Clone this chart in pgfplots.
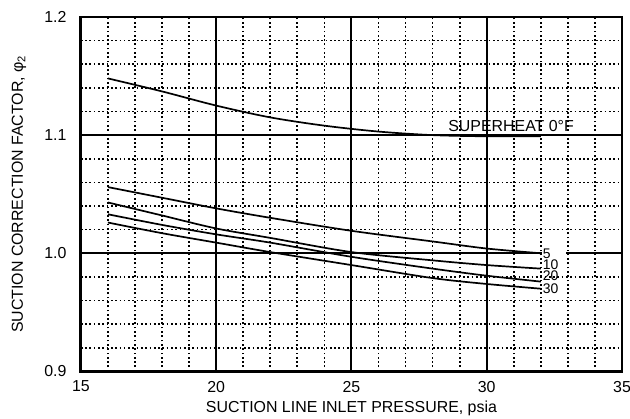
\documentclass[border=0pt]{standalone}
\usepackage{pgfplots}
\pgfplotsset{compat=1.18}
\usetikzlibrary{calc}
\usepackage{fontspec}
\setmainfont{Liberation Sans}
\begin{document}
\fontsize{16}{19}\selectfont
\begin{tikzpicture}
\begin{axis}[
  name=ax,
  scale only axis,
  width=542bp, height=355bp,
  xmin=15, xmax=35, ymin=0.9, ymax=1.2,
  xtick={15,20,25,30,35},
  ytick={0.9,1.0,1.1,1.2},
  minor x tick num=4,
  minor y tick num=4,
  major tick length=0pt, minor tick length=0pt,
  grid=both,
  major grid style={black, line width=2bp},
  minor grid style={black, line width=1.7bp, dash pattern=on 1.7bp off 2.6bp},
  axis line style={black, line width=2.8bp},
  /pgf/number format/assume math mode=true,
  yticklabel style={anchor=east, xshift=-9bp, /pgf/number format/.cd, fixed, fixed zerofill, precision=1},
  xticklabel style={anchor=north, yshift=-4bp, /pgf/number format/.cd, fixed, precision=0},
  xlabel={SUCTION LINE INLET PRESSURE, psia},
  ylabel={SUCTION CORRECTION FACTOR, φ\textsubscript{2}},
  xlabel style={at={($(rel axis cs:0.5,0)+(0,-41bp)$)}, anchor=base},
  ylabel style={at={($(rel axis cs:0,0.5)+(-62bp,0)$)}, anchor=center},
  cycle list={{black, no markers}},
  every axis plot/.append style={line width=1.7bp, smooth},
  clip=false,
]
% superheat 0 F
\addplot coordinates {(16,1.148) (18,1.137) (20,1.125) (22,1.115) (24,1.108) (26,1.103) (28,1.100) (30,1.099) (32,1.099)};
% 5 F
\addplot coordinates {(16,1.056) (18,1.047) (20,1.038) (22,1.030) (25,1.019) (28,1.010) (30,1.004) (32,1.000)};
% 10 F
\addplot coordinates {(16,1.043) (18,1.032) (20,1.021) (22,1.013) (25,1.001) (28,0.994) (30,0.990) (32,0.987)};
% 20 F
\addplot coordinates {(16,1.033) (18,1.024) (20,1.016) (22,1.009) (25,0.997) (28,0.987) (30,0.981) (32,0.976)};
% 30 F
\addplot coordinates {(16,1.026) (18,1.017) (20,1.009) (22,1.001) (25,0.990) (28,0.979) (30,0.974) (32,0.970)};

% white gap in the 1.0 line behind the "5"
\fill[white] (axis cs:32.03,0.997) rectangle (axis cs:32.92,1.003);
\begin{scope}[every node/.style={inner sep=0bp, anchor=west, font=\fontsize{14}{15}\selectfont}]
\node at (axis cs:32.07,0.9994) {5};
\node at (axis cs:32.07,0.9900) {10};
\node at (axis cs:32.07,0.9808) {20};
\node at (axis cs:32.07,0.9700) {30};
\end{scope}
\node[anchor=base, inner sep=0bp, yshift=3.5bp] at (axis cs:30.9,1.1) {SUPERHEAT 0°F};
\end{axis}
\pgfresetboundingbox
\path (ax.south west) ++(-81bp,-47bp) rectangle ++(631bp,419bp);
\end{tikzpicture}
\end{document}
